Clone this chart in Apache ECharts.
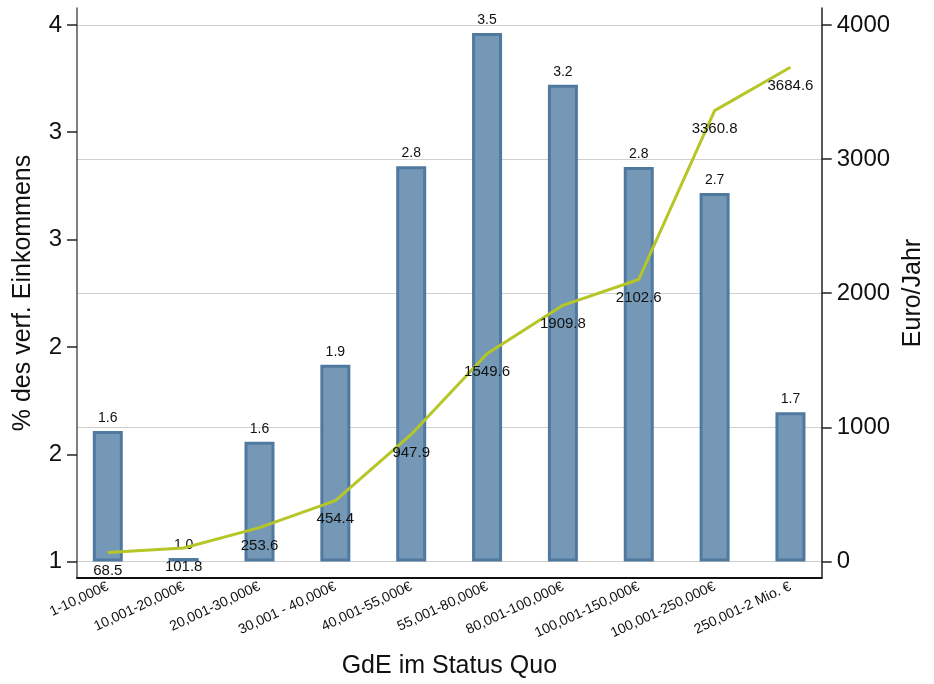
<!DOCTYPE html>
<html>
<head>
<meta charset="utf-8">
<script src="https://cdn.jsdelivr.net/npm/echarts@6/dist/echarts.min.js"></script>
<style>
html,body{margin:0;padding:0;background:#fff;overflow:hidden;width:100%;height:100%;}
#chart{width:100vw;height:100vh;}
</style>
</head>
<body>
<div id="chart"></div>
<script>
const categories = ['1-10,000€','10,001-20,000€','20,001-30,000€','30,001 - 40,000€','40,001-55,000€','55,001-80,000€','80,001-100,000€','100,001-150,000€','100,001-250,000€','250,001-2 Mio. €'];
const barHeights = [1.73, 1.02, 1.67, 2.10, 3.21, 3.955, 3.665, 3.205, 3.06, 1.835];
const barLabels = ['1.6','1.0','1.6','1.9','2.8','3.5','3.2','2.8','2.7','1.7'];
const lineValues = [68.5, 101.8, 253.6, 454.4, 947.9, 1549.6, 1909.8, 2102.6, 3360.8, 3684.6];
const leftTicks = [1, 1.6, 2.2, 2.8, 3.4, 4];
const rightTicks = [0, 1000, 2000, 3000, 4000];
const xPositions = categories.map((c, i) => i + 1);

const FONT = "'Liberation Sans', Arial, sans-serif";
const chart = echarts.init(document.getElementById('chart'));
chart.setOption({
  animation: false,
  backgroundColor: '#fff',
  textStyle: {fontFamily: FONT},
  grid: {left: 77, right: 107, top: 8, bottom: 102, containLabel: false},
  xAxis: {
    type: 'value', min: 0.594, max: 10.412,
    name: 'GdE im Status Quo', nameLocation: 'middle', nameGap: 76,
    nameTextStyle: {fontSize: 25, color: '#111', fontFamily: FONT},
    axisLine: {show: true, onZero: false, lineStyle: {color: '#111', width: 2}},
    axisTick: {show: false},
    splitLine: {show: false},
    axisLabel: {
      customValues: xPositions, rotate: 25, margin: 8, fontSize: 14, color: '#111', fontFamily: FONT,
      formatter: v => categories[Math.round(v) - 1] || ''
    }
  },
  yAxis: [{
    type: 'value', position: 'left', min: 0.9084, max: 4.0944, startValue: 1,
    name: '% des verf. Einkommens', nameLocation: 'middle', nameGap: 41, nameRotate: 90,
    nameTextStyle: {fontSize: 25, color: '#111', fontFamily: FONT},
    axisLine: {show: true, lineStyle: {color: '#555', width: 1.5}},
    axisTick: {show: true, customValues: leftTicks, length: 10, lineStyle: {color: '#222', width: 1.5}},
    axisLabel: {customValues: leftTicks, margin: 15, fontSize: 24, color: '#111', fontFamily: FONT,
      formatter: v => String(Math.round(v))},
    splitLine: {show: false}
  }, {
    type: 'value', position: 'right', min: -122.1, max: 4125.8,
    name: 'Euro/Jahr', nameLocation: 'middle', nameGap: 75, nameRotate: 90,
    nameTextStyle: {fontSize: 25, color: '#111', fontFamily: FONT},
    axisLine: {show: true, lineStyle: {color: '#222', width: 1.5}},
    axisTick: {show: true, customValues: rightTicks, length: 10, lineStyle: {color: '#222', width: 1.5}},
    axisLabel: {customValues: rightTicks, margin: 15, fontSize: 24, color: '#111', fontFamily: FONT,
      formatter: v => String(Math.round(v))},
    splitLine: {show: true, lineStyle: {color: '#cfcfcf', width: 1}}
  }],
  series: [{
    type: 'bar', xAxisIndex: 0, yAxisIndex: 0, barWidth: 30,
    data: barHeights.map((v, i) => [xPositions[i], v]),
    itemStyle: {color: '#7598b7', borderColor: '#50799f', borderWidth: 3},
    label: {show: true, position: 'top', distance: 6, fontSize: 14, color: '#111', fontFamily: FONT,
      formatter: p => barLabels[p.dataIndex]},
    z: 2
  }, {
    type: 'line', xAxisIndex: 0, yAxisIndex: 1,
    data: lineValues.map((v, i) => [xPositions[i], v]),
    symbol: 'circle', symbolSize: 0.1, showSymbol: true,
    lineStyle: {color: '#b5c626', width: 3},
    itemStyle: {color: '#b5c626'},
    label: {show: true, position: 'bottom', distance: 11, fontSize: 15, color: '#111', fontFamily: FONT,
      formatter: p => lineValues[p.dataIndex].toFixed(1)},
    z: 3
  }]
});
window.addEventListener('resize', () => chart.resize());
</script>
</body>
</html>
